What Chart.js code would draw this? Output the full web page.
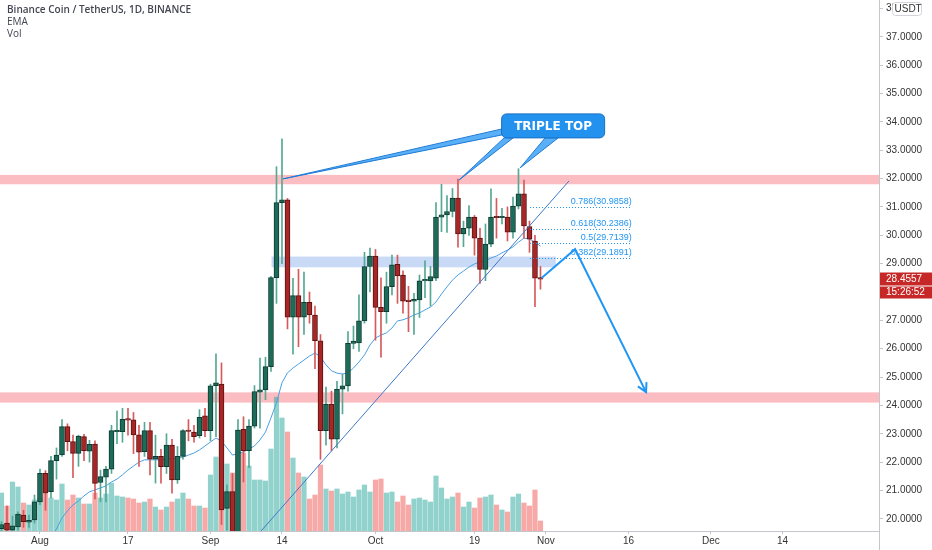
<!DOCTYPE html>
<html>
<head>
<meta charset="utf-8">
<script src="https://cdn.jsdelivr.net/npm/chart.js@4.4.0/dist/chart.umd.min.js"></script>
<style>
  html, body { margin: 0; padding: 0; background: #fff; }
  #wrap { position: relative; width: 932px; height: 550px; }
</style>
</head>
<body>
<div id="wrap"><canvas id="chart"></canvas></div>
<script>
// ===== Data (day 0 = 1 Aug 2020, first candle 25 Jul) =====
const firstDay = -7;
const opens = [
  19.65, 19.85, 19.6, 19.71, 20.13, 19.88, 19.96,
  20.6, 21.6, 20.96, 22.05, 22.25, 23.25, 22.72, 22.31, 22.9, 22.39,
  22.64, 21.28, 21.47, 21.75, 23.07, 23.07, 23.51, 23.49, 22.96, 22.37,
  23.11, 22.1, 22.2, 21.84, 22.6, 21.37, 22.2, 23.11, 23.06, 22.93, 23.63,
  23.11, 24.7, 24.75, 20.37, 20.96, 19.4, 23.16, 22.4, 23.27, 24.47, 24.55,
  25.37, 28.51, 31.15, 31.25, 27.11, 27.87, 27.11, 27.64, 27.19, 26.28,
  23.11, 24.05, 22.81, 24.57, 24.69, 26.19, 26.2, 26.98, 28.9, 29.27,
  27.46, 27.31, 28.19, 28.98, 28.6, 27.68, 27.68, 27.72, 28.39, 28.39,
  28.49, 30.64, 30.72, 30.84, 31.31, 30.05, 30.25, 30.64, 29.9, 28.8,
  29.69, 30.64, 30.62, 30.64, 30.11, 31.03, 31.46, 30.31, 29.8, 28.5
];
const highs = [
  19.9, 20.45, 20.1, 20.25, 20.3, 20.13, 20.84,
  21.75, 21.7, 22.2, 22.5, 23.5, 23.35, 22.95, 22.95, 22.98, 22.77,
  22.75, 21.72, 21.85, 23.3, 23.8, 23.9, 23.9, 23.75, 23.3, 23.4,
  23.4, 22.95, 22.45, 23.0, 22.8, 22.55, 23.15, 23.5, 23.3, 23.85, 23.9,
  24.75, 25.82, 25.5, 21.2, 21.6, 23.5, 23.6, 23.5, 24.7, 25.67, 25.7,
  28.55, 32.42, 33.4, 31.3, 28.48, 28.8, 28.7, 28.0, 27.5, 26.5,
  24.65, 24.5, 24.85, 25.1, 26.6, 26.8, 27.9, 29.4, 29.55, 29.5,
  28.5, 28.7, 29.3, 29.3, 28.75, 28.2, 27.95, 28.6, 29.1, 28.9,
  31.15, 31.8, 31.4, 31.65, 31.98, 30.5, 31.05, 30.7, 30.25, 30.4,
  31.64, 31.3, 30.95, 31.0, 31.35, 32.35, 31.95, 30.5, 30.0, 28.9
];
const lows = [
  19.55, 19.55, 19.55, 19.6, 19.7, 19.7, 19.85,
  20.5, 20.3, 20.75, 21.4, 22.2, 22.4, 21.45, 21.85, 22.05, 22.0,
  20.7, 20.6, 20.6, 21.6, 22.65, 22.7, 22.95, 22.3, 21.85, 22.2,
  21.55, 21.26, 21.26, 21.6, 20.9, 21.25, 22.1, 22.75, 22.7, 22.85, 22.9,
  22.75, 22.9, 19.8, 19.6, 19.0, 19.2, 21.3, 21.8, 23.2, 23.2, 24.2,
  25.2, 27.6, 29.0, 26.7, 25.81, 26.07, 26.5, 26.9, 25.3, 22.1,
  22.6, 22.4, 22.5, 23.7, 24.5, 26.0, 25.9, 26.9, 28.0, 26.3,
  25.7, 26.9, 27.9, 27.6, 27.25, 26.6, 26.5, 27.1, 27.8, 27.5,
  28.4, 30.13, 30.1, 30.65, 29.58, 29.6, 30.0, 29.3, 28.3, 28.4,
  29.6, 29.9, 30.4, 29.8, 29.9, 30.93, 29.9, 29.4, 27.48, 28.1
];
const closes = [
  19.8, 19.6, 19.75, 20.17, 19.9, 19.95, 20.6,
  21.6, 20.9, 22.05, 22.25, 23.25, 22.72, 22.31, 22.92, 22.4, 22.63,
  21.25, 21.49, 21.75, 23.11, 23.1, 23.51, 23.48, 22.96, 22.35, 23.11,
  22.1, 22.2, 21.84, 22.6, 21.37, 22.2, 23.11, 23.08, 22.9, 23.58, 23.11,
  24.69, 24.8, 20.31, 20.96, 19.4, 23.13, 22.4, 23.27, 24.49, 24.55, 25.37,
  28.51, 31.15, 31.25, 27.11, 27.87, 27.11, 27.64, 27.19, 26.28, 23.11,
  24.05, 22.81, 24.57, 24.69, 26.19, 26.27, 26.98, 28.9, 29.27, 27.46,
  27.31, 28.19, 28.96, 28.57, 27.68, 27.66, 27.74, 28.39, 28.45, 28.54,
  30.64, 30.72, 30.84, 31.31, 30.05, 30.25, 30.64, 29.9, 28.8, 29.69,
  30.64, 30.62, 30.66, 30.11, 31.03, 31.46, 30.33, 29.86, 28.49, 28.4557
];
const volumes = [
  38, 25, 49, 44, 28, 26, 31,
  33, 37, 33, 31, 47, 31, 36, 33, 27, 27,
  38, 33, 37, 48, 35, 34, 33, 32, 28, 29,
  32, 24, 21, 24, 29, 32, 38, 32, 25, 25, 23,
  56, 74, 91, 67, 58, 101, 78, 65, 51, 51, 50,
  82, 134, 113, 99, 73, 58, 54, 32, 36, 66,
  42, 40, 42, 37, 39, 34, 41, 46, 39, 51,
  52, 38, 39, 29, 35, 26, 32, 33, 31, 29,
  55, 43, 32, 34, 38, 24, 29, 23, 33, 34,
  36, 26, 21, 19, 34, 37, 28, 25, 41, 10
];
const emaValues = [
  null, null, null, null, null, null, null,
  18.76, 19.04, 19.36, 19.64, 20.03, 20.28, 20.49, 20.63, 20.81, 20.95,
  21.02, 21.09, 21.16, 21.3, 21.4, 21.55, 21.72, 21.86, 22.0, 22.08,
  22.08, 22.08, 22.08, 22.11, 22.11, 22.15, 22.18, 22.25, 22.32, 22.43, 22.57,
  22.71, 22.85, 22.74, 22.5, 22.25, 22.29, 22.36, 22.46, 22.57, 22.78, 23.06,
  23.56, 24.09, 24.8, 25.15, 25.32, 25.46, 25.6, 25.74, 25.85, 25.71,
  25.43, 25.22, 25.14, 25.11, 25.14, 25.32, 25.53, 25.78, 26.13, 26.38,
  26.48, 26.56, 26.73, 26.98, 27.02, 27.09, 27.19, 27.26, 27.37, 27.47,
  27.65, 27.93, 28.18, 28.42, 28.6, 28.74, 28.88, 28.99, 29.06, 29.1,
  29.2, 29.27, 29.38, 29.48, 29.59, 29.76, 29.9, 29.87, 29.76, 29.62
];

const tickDays = [0, 16, 31, 44, 61, 79, 92, 107, 122, 135];
const tickLabels = ['Aug', '17', 'Sep', '14', 'Oct', '19', 'Nov', '16', 'Dec', '14'];
const priceTicks = [20, 21, 22, 23, 24, 25, 26, 27, 28, 29, 30, 31, 32, 33, 34, 35, 36, 37, 38];

// ===== Drawings (day, price) =====
const resistanceZone = [31.80, 32.13];
const supportZone = [24.10, 24.46];
const retestZone = [42.1, 93.8, 28.87, 29.25];
const fibLevels = ['0.786', '0.618', '0.5', '0.382'];
const fibPrices = [30.9858, 30.2386, 29.7139, 29.1891];
const fibSpan = [89.1, 107.6];
const trendLine = [[40.2, 19.57], [96.2, 31.92]];
const projection = [[91.2, 28.49], [97.3, 29.51], [110.2, 24.47]];
const tripleTops = [[44.2, 31.99], [76.2, 31.95], [87.3, 32.38]];
const calloutAt = [93.3, 33.86];
const lastPrice = 28.4557;
const countdown = '15:26:52';

const colors = {
  upBody: '#1d6b59', upBorder: '#0e3b31', upWick: '#55a894',
  downBody: '#a82626', downBorder: '#5a1212', downWick: '#d65a5c',
  upVol: 'rgba(38, 166, 154, 0.5)', downVol: 'rgba(239, 83, 80, 0.5)',
  ema: '#4a9fe3', blue: '#2196f3', trend: '#3c78c8',
  pinkZone: 'rgba(247, 82, 95, 0.38)', blueZone: 'rgba(100, 150, 230, 0.35)',
  axis: '#c4c6cc', text: '#333'
};

const isUp = (i) => closes[i] >= opens[i];
const dayOf = (i) => firstDay + i;

const wickData = highs.map((h, i) => ({ x: dayOf(i), y: [lows[i], h] }));
const bodyData = opens.map((o, i) => ({ x: dayOf(i), y: [o, closes[i]] }));
const volData = volumes.map((v, i) => ({ x: dayOf(i), y: v }));
const emaData = emaValues.map((v, i) => ({ x: dayOf(i), y: v }));

// ===== Drawing plugin =====
const pt = (chart, d, p) => [chart.scales.x.getPixelForValue(d), chart.scales.y.getPixelForValue(p)];

const noPadding = (s) => {
  s.paddingTop = 0; s.paddingBottom = 0; s.paddingLeft = 0; s.paddingRight = 0;
};

const zonesPlugin = {
  id: 'zones',
  beforeDatasetsDraw(chart) {
    const { ctx, chartArea: a } = chart;
    ctx.save();
    ctx.fillStyle = colors.pinkZone;
    [resistanceZone, supportZone].forEach(([lo, hi]) => {
      const y1 = chart.scales.y.getPixelForValue(hi);
      const y2 = chart.scales.y.getPixelForValue(lo);
      ctx.fillRect(a.left, y1, a.right - a.left, y2 - y1);
    });
    const [x1, y1] = pt(chart, retestZone[0], retestZone[3]);
    const [x2, y2] = pt(chart, retestZone[1], retestZone[2]);
    ctx.fillStyle = colors.blueZone;
    ctx.fillRect(x1, y1, x2 - x1, y2 - y1);
    ctx.restore();
  }
};

const drawingsPlugin = {
  id: 'drawings',
  afterDatasetsDraw(chart) {
    const { ctx, chartArea: a } = chart;
    ctx.save();
    ctx.beginPath();
    ctx.rect(a.left, a.top, a.right - a.left, a.bottom - a.top);
    ctx.clip();

    // ascending trend line
    const t0 = pt(chart, ...trendLine[0]);
    const t1 = pt(chart, ...trendLine[1]);
    ctx.strokeStyle = colors.trend;
    ctx.lineWidth = 1;
    ctx.beginPath();
    ctx.moveTo(t0[0], t0[1]);
    ctx.lineTo(t1[0], t1[1]);
    ctx.stroke();

    // fib levels
    ctx.font = '9px "Liberation Sans", Arial, sans-serif';
    ctx.fillStyle = colors.blue;
    ctx.strokeStyle = colors.blue;
    ctx.textAlign = 'right';
    ctx.textBaseline = 'bottom';
    ctx.setLineDash([1, 2]);
    fibPrices.forEach((p, i) => {
      const [fx1, fy] = pt(chart, fibSpan[0], p);
      const [fx2] = pt(chart, fibSpan[1], p);
      ctx.beginPath();
      ctx.moveTo(fx1, Math.round(fy) + 0.5);
      ctx.lineTo(fx2, Math.round(fy) + 0.5);
      ctx.stroke();
      ctx.fillText(`${fibLevels[i]}(${p.toFixed(4)})`, fx2, fy - 1);
    });
    ctx.setLineDash([]);

    // projection arrow
    const pts = projection.map(q => pt(chart, ...q));
    ctx.strokeStyle = colors.blue;
    ctx.lineWidth = 2;
    ctx.beginPath();
    pts.forEach(([x, y], i) => (i ? ctx.lineTo(x, y) : ctx.moveTo(x, y)));
    ctx.stroke();
    const [ax, ay] = pts[pts.length - 1];
    const [bx, by] = pts[pts.length - 2];
    const ang = Math.atan2(ay - by, ax - bx);
    ctx.beginPath();
    ctx.moveTo(ax - 10 * Math.cos(ang - 0.5), ay - 10 * Math.sin(ang - 0.5));
    ctx.lineTo(ax, ay);
    ctx.lineTo(ax - 10 * Math.cos(ang + 0.5), ay - 10 * Math.sin(ang + 0.5));
    ctx.stroke();

    // triple top callout
    const [cx, cy] = pt(chart, ...calloutAt);
    const bw = 103, bh = 24;
    const bases = [[[-51, 3], [-51, 9]], [[-49, 12], [-40, 12]], [[-8, 12], [5, 12]]];
    ctx.lineWidth = 1;
    ctx.fillStyle = 'rgba(33, 150, 243, 0.75)';
    ctx.strokeStyle = '#1e7ad6';
    tripleTops.forEach((tp, i) => {
      const [tx, ty] = pt(chart, ...tp);
      ctx.beginPath();
      ctx.moveTo(cx + bases[i][0][0], cy + bases[i][0][1]);
      ctx.lineTo(tx, ty);
      ctx.lineTo(cx + bases[i][1][0], cy + bases[i][1][1]);
      ctx.closePath();
      ctx.fill();
      ctx.stroke();
    });
    ctx.fillStyle = '#2392ee';
    ctx.strokeStyle = '#1a6fc4';
    ctx.beginPath();
    ctx.roundRect(cx - bw / 2, cy - bh / 2, bw, bh, 5);
    ctx.fill();
    ctx.stroke();
    ctx.fillStyle = '#fff';
    ctx.font = 'bold 12px "DejaVu Sans", Verdana, sans-serif';
    ctx.textAlign = 'center';
    ctx.textBaseline = 'middle';
    ctx.fillText('TRIPLE TOP', cx, cy + 0.5);
    ctx.restore();
  },
  afterDraw(chart) {
    const { ctx, chartArea: a } = chart;
    ctx.save();
    // axis line continues into the date strip
    ctx.strokeStyle = colors.axis;
    ctx.lineWidth = 1;
    ctx.beginPath();
    ctx.moveTo(a.right + 0.5, a.bottom);
    ctx.lineTo(a.right + 0.5, chart.height);
    ctx.stroke();

    // header
    ctx.fillStyle = '#434651';
    ctx.textAlign = 'left';
    ctx.textBaseline = 'middle';
    ctx.font = '600 10px "Open Sans", sans-serif';
    ctx.fillText('Binance Coin / TetherUS, 1D, BINANCE', 7, 10);
    ctx.font = '10px "Open Sans", sans-serif';
    ctx.fillText('EMA', 7, 22);
    ctx.fillText('Vol', 7, 34);

    // currency badge
    ctx.fillStyle = '#fff';
    ctx.strokeStyle = '#d1d4dc';
    ctx.beginPath();
    ctx.roundRect(892.5, 2.5, 29, 13, 3);
    ctx.fill();
    ctx.stroke();
    ctx.fillStyle = '#333';
    ctx.font = '10px "Liberation Sans", Arial, sans-serif';
    ctx.fillText('USDT', 894.5, 9.5);

    // last price + countdown
    const py = chart.scales.y.getPixelForValue(lastPrice);
    ctx.fillStyle = '#c62828';
    ctx.fillRect(a.right + 1, Math.round(py) - 6.5, 52, 13);
    ctx.fillRect(a.right + 1, Math.round(py) + 7.5, 52, 12);
    ctx.fillStyle = '#fff';
    ctx.fillText(lastPrice.toFixed(4), 886, Math.round(py));
    ctx.fillText(countdown, 886, Math.round(py) + 13.5);
    ctx.restore();
  }
};

// ===== Chart =====
new Chart(document.getElementById('chart'), {
  data: {
    datasets: [
      {
        type: 'bar', data: bodyData, order: 0, grouped: false,
        barThickness: 5, minBarLength: 1.5, borderWidth: 1, borderSkipped: false,
        backgroundColor: (c) => (isUp(c.dataIndex) ? colors.upBody : colors.downBody),
        borderColor: (c) => (isUp(c.dataIndex) ? colors.upBorder : colors.downBorder)
      },
      {
        type: 'bar', data: wickData, order: 1, grouped: false, barThickness: 1,
        backgroundColor: (c) => (isUp(c.dataIndex) ? colors.upWick : colors.downWick)
      },
      {
        type: 'line', data: emaData, order: 2, borderColor: colors.ema, borderWidth: 1,
        pointRadius: 0, tension: 0, spanGaps: false
      },
      {
        type: 'bar', data: volData, order: 3, grouped: false, yAxisID: 'vol', barThickness: 4.5,
        backgroundColor: (c) => (isUp(c.dataIndex) ? colors.upVol : colors.downVol)
      }
    ]
  },
  options: {
    responsive: true,
    maintainAspectRatio: false,
    animation: false,
    devicePixelRatio: 1,
    events: [],
    layout: { padding: 0 },
    plugins: { legend: { display: false }, tooltip: { enabled: false } },
    scales: {
      x: {
        type: 'linear',
        offset: false,
        min: -7.27,
        max: 152.55,
        afterBuildTicks: (s) => { s.ticks = tickDays.map(v => ({ value: v })); },
        afterFit: (s) => { s.height = 19; noPadding(s); },
        grid: { display: true, offset: false, drawOnChartArea: false, drawTicks: true, tickLength: 3, color: colors.axis },
        border: { display: true, color: colors.axis },
        ticks: {
          autoSkip: false, maxRotation: 0, padding: 1,
          color: colors.text, font: { family: '"Liberation Sans", Arial, sans-serif', size: 10 },
          callback: (v) => tickLabels[tickDays.indexOf(v)]
        }
      },
      y: {
        type: 'linear',
        position: 'right',
        min: 19.57,
        max: 38.3,
        afterBuildTicks: (s) => { s.ticks = priceTicks.map(v => ({ value: v })); },
        afterFit: (s) => { s.width = 53; noPadding(s); },
        grid: { display: true, drawOnChartArea: false, drawTicks: true, tickLength: 4, color: colors.axis },
        border: { display: true, color: colors.axis },
        ticks: {
          padding: 3, color: colors.text,
          font: { family: '"Liberation Sans", Arial, sans-serif', size: 10 },
          callback: (v) => Number(v).toFixed(4)
        }
      },
      vol: { type: 'linear', display: false, min: 0, max: 531, afterFit: noPadding }
    }
  },
  plugins: [zonesPlugin, drawingsPlugin]
});
</script>
</body>
</html>
